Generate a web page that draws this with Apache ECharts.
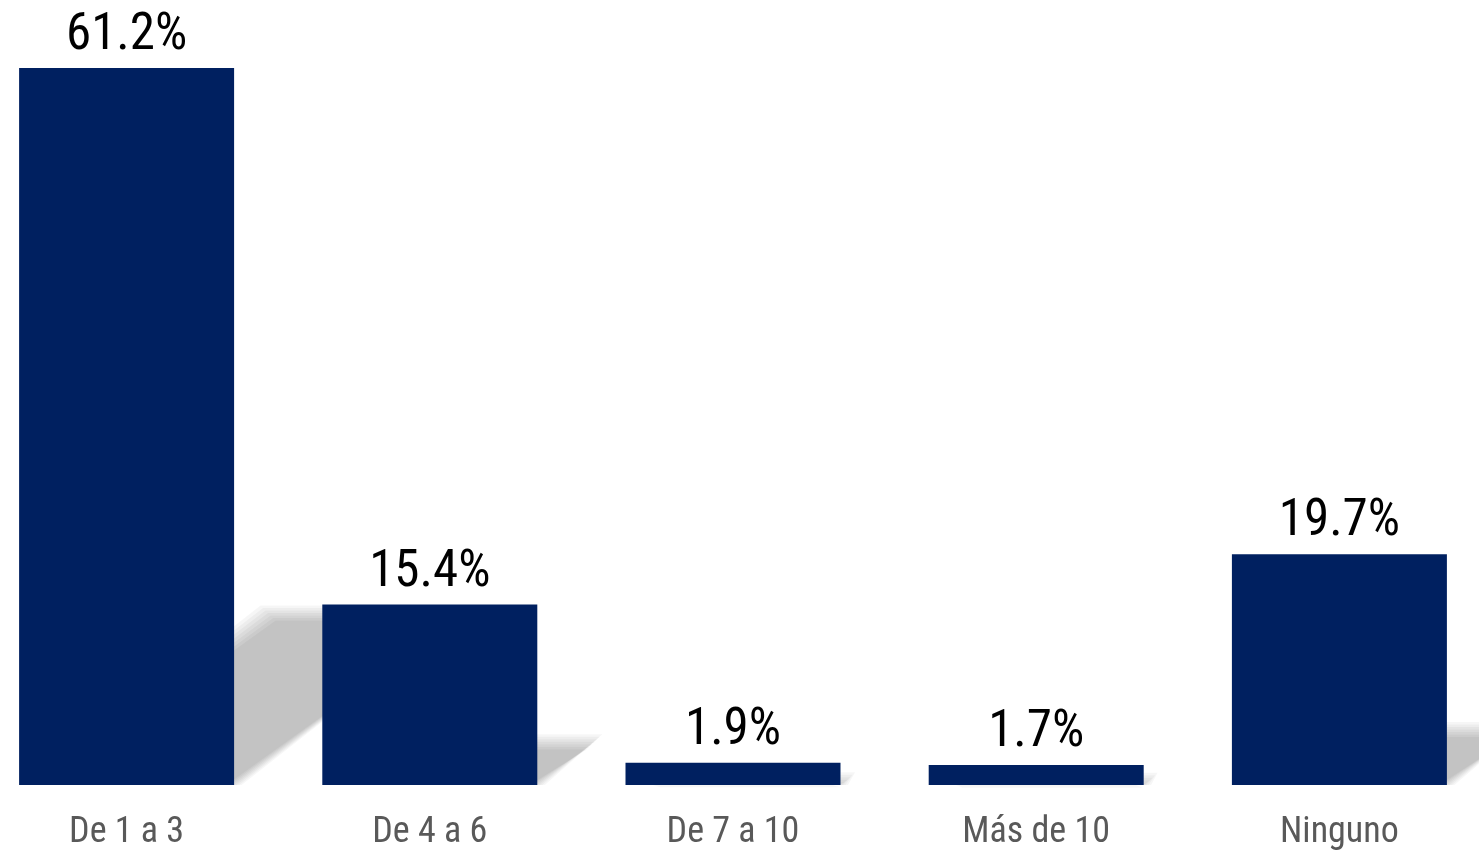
<!DOCTYPE html>
<html>
<head>
<meta charset="utf-8">
<script src="https://cdn.jsdelivr.net/npm/echarts@6/dist/echarts.min.js"></script>
<style>
  html, body { margin: 0; padding: 0; background: #fff; }
  #chart { width: 1479px; height: 850px; }
</style>
</head>
<body>
<div id="chart"></div>
<script>
// datos
const categories = ['De 1 a 3', 'De 4 a 6', 'De 7 a 10', 'Más de 10', 'Ninguno'];
const values = [61.2, 15.4, 1.9, 1.7, 19.7];

const BAR_W = 215;
const FONT = "'Roboto Condensed', 'DejaVu Sans Condensed', sans-serif";

const myChart = echarts.init(document.getElementById('chart'));

// sombra inclinada detrás de cada barra; varias capas para difuminar el borde
const renderShadow = (params, api) => {
  const base = api.coord([api.value(0), 0]);
  const top = api.coord([api.value(0), api.value(1)]);
  const h = base[1] - top[1];
  const L = base[0] - BAR_W / 2 + 20;
  const R = base[0] + BAR_W / 2;
  const sh = h * 0.24;
  const dx = sh * 1.33;
  const y0 = base[1];
  const children = [];
  for (let i = 0; i < 7; i++) {
    const s = (i - 3) * 2.5;
    children.push({
      type: 'polygon',
      shape: {
        points: [
          [L - s, y0],
          [R + s, y0],
          [R + dx + s, y0 - sh - s],
          [L + dx - s, y0 - sh - s]
        ]
      },
      style: { fill: 'rgba(0,0,0,0.034)' }
    });
  }
  return { type: 'group', children: children };
};

myChart.setOption({
  animation: false,
  backgroundColor: '#ffffff',
  grid: {
    left: -25,
    right: -12,
    top: 0,
    bottom: 65,
    containLabel: false,
    outerBoundsMode: 'none'
  },
  xAxis: {
    type: 'category',
    data: categories,
    axisLine: { show: false },
    axisTick: { show: false },
    axisLabel: {
      color: '#595959',
      fontFamily: FONT,
      fontSize: 36,
      margin: 30
    }
  },
  yAxis: {
    type: 'value',
    min: 0,
    max: 67,
    show: false,
    splitLine: { show: false }
  },
  series: [
    {
      type: 'custom',
      renderItem: renderShadow,
      data: values.map((v, i) => [i, v]),
      z: 1,
      silent: true
    },
    {
      type: 'bar',
      data: values,
      barWidth: BAR_W,
      z: 2,
      itemStyle: { color: '#002060' },
      label: {
        show: true,
        position: 'top',
        distance: 6,
        color: '#000000',
        fontFamily: FONT,
        fontSize: 51,
        formatter: (p) => p.value.toFixed(1) + '%'
      }
    }
  ]
});

window.addEventListener('resize', () => {
  myChart.resize();
});
</script>
</body>
</html>
